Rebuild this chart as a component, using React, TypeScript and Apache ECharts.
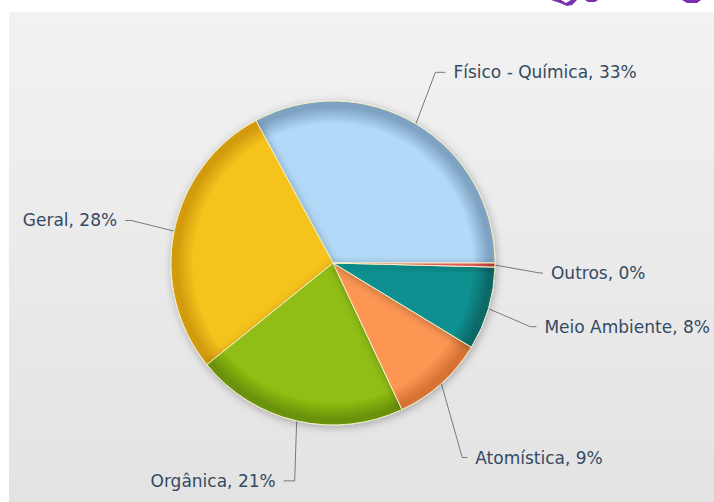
import React, { useEffect, useRef } from "react";
import * as echarts from "echarts";

const categories = ["Físico - Química", "Geral", "Orgânica", "Atomística", "Meio Ambiente", "Outros"];
const values = [32.9, 27.9, 21.2, 9.3, 8.3, 0.4];

const COLORS = ["#b2d9f7", "#f6c31c", "#90bd12", "#fd9653", "#10908f", "#e05a5a"];
const RIM = ["#7ea3c2", "#d29a0e", "#6a920a", "#d77234", "#086868", "#b03a3a"];

// connector geometry for each label: bend offset from the slice edge, horizontal tail, side
const GUIDE = [
  { bx: 19.5, by: -51.5, len2: 10, side: 1 },
  { bx: -43, by: -10.7, len2: 6, side: -1 },
  { bx: -2, by: 60, len2: 11, side: -1 },
  { bx: 21, by: 74, len2: 5, side: 1 },
  { bx: 42, by: 18, len2: 6, side: 1 },
  { bx: 45, by: 8, len2: 3, side: 1 },
];

const CX = 333;
const CY = 263;
const R = 162;

export default function App() {
  const ref = useRef<HTMLDivElement>(null);
  useEffect(() => {
    document.body.style.margin = "0";
    const chart = echarts.init(ref.current!, null, { renderer: "svg" });
    const data = categories.map((name, i) => ({
      name,
      value: values[i],
      itemStyle: {
        color: {
          type: "radial",
          x: CX,
          y: CY,
          r: R,
          global: true,
          colorStops: [
            { offset: 0, color: COLORS[i] },
            { offset: 0.86, color: COLORS[i] },
            { offset: 0.965, color: RIM[i] },
            { offset: 1, color: RIM[i] },
          ],
        },
      },
    }));
    chart.setOption({
      animation: false,
      backgroundColor: "#ffffff",
      graphic: [
        {
          type: "rect",
          z: -10,
          silent: true,
          shape: { x: 9, y: 12, width: 705, height: 490 },
          style: {
            fill: {
              type: "linear",
              x: 0,
              y: 0,
              x2: 0,
              y2: 1,
              colorStops: [
                { offset: 0, color: "#f2f2f2" },
                { offset: 1, color: "#e3e3e3" },
              ],
            },
          },
        },
        {
          type: "polygon",
          silent: true,
          shape: { points: [[551, 0], [561, 0], [566, 3], [571, 0], [577, 0], [572, 5], [567, 6], [560, 3]] },
          style: { fill: "#7a2fae" },
        },
        {
          type: "polygon",
          silent: true,
          shape: { points: [[585, 0], [598, 0], [595, 2], [588, 2]] },
          style: { fill: "#7a2fae" },
        },
        {
          type: "polygon",
          silent: true,
          shape: { points: [[682, 0], [701, 0], [697, 3], [687, 3]] },
          style: { fill: "#7a2fae" },
        },
      ],
      series: [
        {
          type: "pie",
          center: [CX, CY],
          radius: R,
          startAngle: 0,
          clockwise: false,
          avoidLabelOverlap: false,
          data,
          itemStyle: {
            borderColor: "#f4f0c6",
            borderWidth: 1,
            shadowBlur: 8,
            shadowColor: "rgba(0,0,0,0.28)",
            shadowOffsetX: 1,
            shadowOffsetY: 2,
          },
          emphasis: { disabled: true },
          label: {
            show: true,
            position: "outside",
            formatter: (p: any) => `${p.name}, ${Math.round(p.percent)}%`,
            fontFamily: "DejaVu Sans",
            fontSize: 17,
            color: "#344a62",
          },
          labelLine: {
            show: true,
            length: 20,
            length2: 8,
            lineStyle: { color: "#7a7a7a", width: 1 },
          },
          labelLayout: (params: any) => {
            const g = GUIDE[params.dataIndex];
            const pts = params.labelLinePoints;
            if (!g || !pts) return {};
            const start = pts[0];
            const bend = [start[0] + g.bx, start[1] + g.by];
            const end = [bend[0] + g.side * g.len2, bend[1]];
            return {
              x: end[0] + g.side * 8,
              y: end[1],
              align: g.side > 0 ? "left" : "right",
              verticalAlign: "middle",
              labelLinePoints: [start, bend, end],
            };
          },
        },
      ],
    });
    return () => chart.dispose();
  }, []);
  return <div ref={ref} style={{ position: "fixed", left: 0, top: 0, width: 714, height: 502 }} />;
}
